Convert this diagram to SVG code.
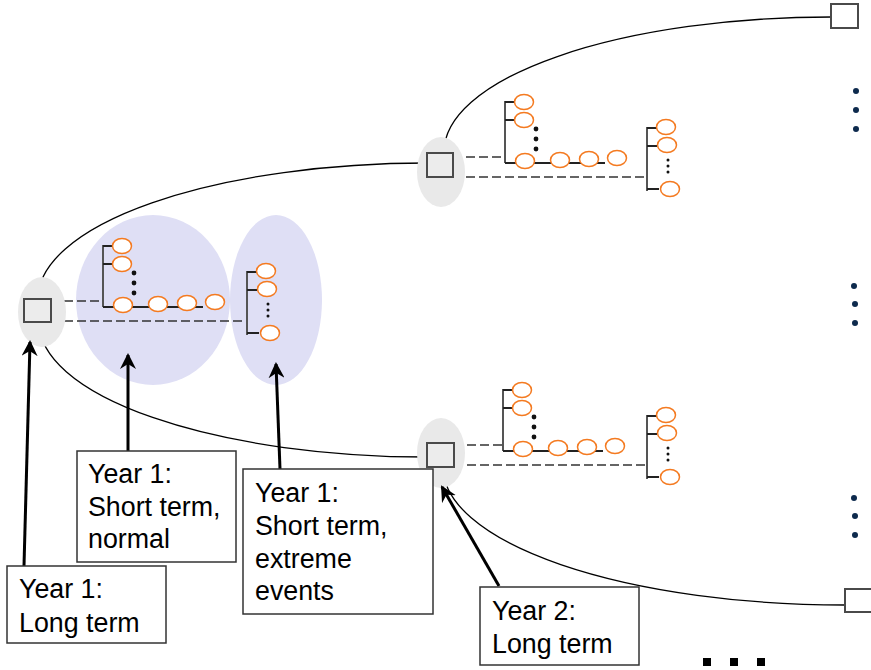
<svg xmlns="http://www.w3.org/2000/svg" width="871" height="670" viewBox="0 0 871 670">
  <defs>
    <style>
      .halo { fill: #e9e9e9; }
      .zone { fill: #dfdff5; }
      .box { fill: #ececec; stroke: #4a4a4a; stroke-width: 2; }
      .endbox { fill: #fff; stroke: #4a4a4a; stroke-width: 2; }
      .path { fill: none; stroke: #000; stroke-width: 1.3; }
      .dash { fill: none; stroke: #333; stroke-width: 1.7; stroke-dasharray: 9 4; }
      .bar { fill: none; stroke: #555; stroke-width: 2; }
      .stem { fill: none; stroke: #222; stroke-width: 1.8; }
      .leaf { fill: #fff; stroke: #f47a20; stroke-width: 1.5; }
      .dot { fill: #111; }
      .more { fill: #0d2a4d; }
      .label { fill: #fff; stroke: #333; stroke-width: 1.5; }
      .txt { font-family: "Liberation Sans", Arial, sans-serif; font-size: 26.8px; fill: #000; }
      .pointer { fill: none; stroke: #000; stroke-width: 3; }
    </style>
    <marker id="head" viewBox="0 0 16 16" refX="14" refY="8" markerWidth="16" markerHeight="16" markerUnits="userSpaceOnUse" orient="auto">
      <path d="M0,0 L16,8 L0,16 L5,8 Z" fill="#000"/>
    </marker>
    <!-- long tree: vertical stem with leaves, then a horizontal run -->
    <g id="treeLong">
      <path class="bar" d="M0,0 V62"/>
      <path class="stem" d="M0,62 H100"/>
      <path class="stem" d="M0,1 H10 M0,19 H10"/>
      <ellipse class="leaf" cx="19" cy="1" rx="9.5" ry="7.5"/>
      <ellipse class="leaf" cx="19" cy="19" rx="9.5" ry="7.5"/>
      <circle class="dot" cx="31" cy="28" r="2.4"/>
      <circle class="dot" cx="31" cy="38" r="2.4"/>
      <circle class="dot" cx="31" cy="48" r="2.4"/>
      <ellipse class="leaf" cx="20" cy="60" rx="9.5" ry="7.5"/>
      <ellipse class="leaf" cx="55" cy="59" rx="9.5" ry="7.5"/>
      <ellipse class="leaf" cx="84" cy="58" rx="9.5" ry="7.5"/>
      <ellipse class="leaf" cx="112" cy="57" rx="9.5" ry="7.5"/>
    </g>
    <!-- short tree: vertical stem only -->
    <g id="treeShort">
      <path class="bar" d="M0,0 V64"/>
      <path class="stem" d="M0,1 H10 M0,19 H10 M0,62 H12"/>
      <ellipse class="leaf" cx="19" cy="0" rx="9.5" ry="7.5"/>
      <ellipse class="leaf" cx="20" cy="18" rx="9.5" ry="7.5"/>
      <circle class="dot" cx="21" cy="33" r="1.5"/>
      <circle class="dot" cx="21" cy="39" r="1.5"/>
      <circle class="dot" cx="21" cy="45" r="1.5"/>
      <ellipse class="leaf" cx="23" cy="62" rx="9.5" ry="7.5"/>
    </g>
  </defs>

  <rect width="871" height="670" fill="#fff"/>

  <!-- shaded groupings -->
  <ellipse class="zone" cx="153" cy="300" rx="77" ry="85"/>
  <ellipse class="zone" cx="276" cy="300" rx="46" ry="85"/>

  <!-- connectors between decision stages -->
  <g id="connectors">
    <path class="path" d="M38,299 A389,136 0 0 1 427,163"/>
    <path class="path" d="M39,322 A388,135 0 0 0 427,457"/>
    <path class="path" d="M444,152 A387,135 0 0 1 831,17"/>
    <path class="path" d="M443,467 A402,138 0 0 0 845,605"/>
    <path class="dash" d="M51,301 H103"/>
    <path class="dash" d="M51,321 H247"/>
    <path class="dash" d="M453,157 H505"/>
    <path class="dash" d="M453,177 H647"/>
    <path class="dash" d="M454,445 H503"/>
    <path class="dash" d="M454,465 H647"/>
  </g>

  <!-- year 1 root -->
  <g id="node-y1">
    <ellipse class="halo" cx="42" cy="312" rx="24" ry="35"/>
    <rect class="box" x="24" y="299" width="27" height="23"/>
    <use href="#treeLong" x="103" y="245"/>
    <use href="#treeShort" x="247" y="271"/>
  </g>

  <!-- year 2, upper branch -->
  <g id="node-y2-upper">
    <ellipse class="halo" cx="441" cy="172" rx="24" ry="35"/>
    <rect class="box" x="427" y="153" width="26" height="24"/>
    <use href="#treeLong" x="505" y="101"/>
    <use href="#treeShort" x="647" y="127"/>
  </g>

  <!-- year 2, lower branch -->
  <g id="node-y2-lower">
    <ellipse class="halo" cx="441" cy="453" rx="24" ry="35"/>
    <rect class="box" x="427" y="443" width="27" height="24"/>
    <use href="#treeLong" x="503" y="389"/>
    <use href="#treeShort" x="647" y="415"/>
  </g>

  <!-- later years -->
  <g id="node-y3-top">
    <rect class="endbox" x="831" y="4" width="27" height="24"/>
  </g>
  <g id="node-y3-bottom">
    <rect class="endbox" x="845" y="589" width="30" height="23"/>
  </g>

  <g id="continuation">
    <circle class="more" cx="856" cy="91" r="3"/>
    <circle class="more" cx="856" cy="110" r="3"/>
    <circle class="more" cx="856" cy="129" r="3"/>
    <circle class="more" cx="854" cy="286" r="3"/>
    <circle class="more" cx="855" cy="304" r="3"/>
    <circle class="more" cx="855" cy="323" r="3"/>
    <circle class="more" cx="854" cy="498" r="3"/>
    <circle class="more" cx="855" cy="516" r="3"/>
    <circle class="more" cx="855" cy="535" r="3"/>
    <rect x="703" y="658" width="8" height="8" fill="#000"/>
    <rect x="730" y="658" width="8" height="8" fill="#000"/>
    <rect x="757" y="658" width="8" height="8" fill="#000"/>
  </g>

  <!-- callouts -->
  <g id="pointers">
    <path class="pointer" d="M24,566 L30,342" marker-end="url(#head)"/>
    <path class="pointer" d="M128,451 L128,355" marker-end="url(#head)"/>
    <path class="pointer" d="M280,469 L276,364" marker-end="url(#head)"/>
    <path class="pointer" d="M499,586 L442,487" marker-end="url(#head)"/>
  </g>

  <g id="label-normal">
    <rect class="label" x="77" y="451" width="159" height="111"/>
    <text class="txt" x="88" y="483">Year 1:</text>
    <text class="txt" x="88" y="516">Short term,</text>
    <text class="txt" x="88" y="548">normal</text>
  </g>
  <g id="label-long1">
    <rect class="label" x="7" y="566" width="159" height="77"/>
    <text class="txt" x="19" y="598">Year 1:</text>
    <text class="txt" x="19" y="632">Long term</text>
  </g>
  <g id="label-extreme">
    <rect class="label" x="243" y="469" width="190" height="145"/>
    <text class="txt" x="255" y="502">Year 1:</text>
    <text class="txt" x="255" y="535">Short term,</text>
    <text class="txt" x="255" y="568">extreme</text>
    <text class="txt" x="255" y="600">events</text>
  </g>
  <g id="label-long2">
    <rect class="label" x="480" y="587" width="159" height="78"/>
    <text class="txt" x="492" y="620">Year 2:</text>
    <text class="txt" x="492" y="653">Long term</text>
  </g>
</svg>
